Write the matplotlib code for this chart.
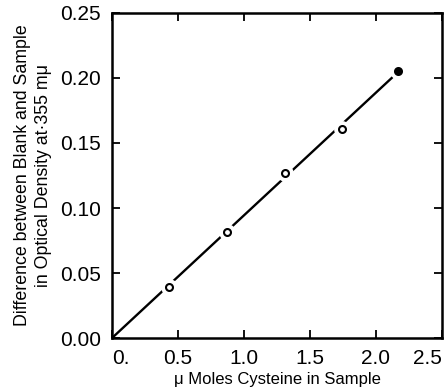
import matplotlib
matplotlib.use("Agg")
import matplotlib.pyplot as plt
import numpy as np

# readings
cysteine = [0.432, 0.869, 1.308, 1.740, 2.164]
od_diff = [0.0395, 0.0818, 0.1267, 0.1608, 0.2054]
filled = [False, False, False, False, True]

x_ticks = [0, 0.5, 1.0, 1.5, 2.0, 2.5]
x_labels = ["0.", "0.5", "1.0", "1.5", "2.0", "2.5"]
y_ticks = [0, 0.05, 0.10, 0.15, 0.20, 0.25]
y_labels = ["0.00", "0.05", "0.10", "0.15", "0.20", "0.25"]

plt.rcParams["font.family"] = ["Liberation Sans", "DejaVu Sans"]

fig = plt.figure(figsize=(4.47, 3.9), dpi=100)
ax = fig.add_axes([0.2506, 0.1333, 0.7382, 0.8334])

x = np.array(cysteine)
y = np.array(od_diff)
slope = (x * y).sum() / (x * x).sum()
xl = np.array([0, x[-1]])
ax.plot(xl, slope * xl, color="black", lw=1.7, solid_capstyle="butt", zorder=2)

# white halo so the line breaks around each point
ax.plot(x, y, "o", ms=11, mfc="white", mec="white", zorder=3)
for xi, yi, f in zip(x, y, filled):
    ax.plot(xi, yi, "o", ms=5, mfc="black" if f else "white",
            mec="black", mew=1.5, zorder=4)

ax.set_xlim(0, 2.5)
ax.set_ylim(0, 0.25)
ax.set_xticks(x_ticks)
ax.set_xticklabels(x_labels)
ax.set_yticks(y_ticks)
ax.set_yticklabels(y_labels)
ax.tick_params(direction="in", length=6, width=1.3, top=True, right=True,
               labelsize=15)
ax.tick_params(axis="x", pad=8)
ax.tick_params(axis="y", pad=8)
xt = ax.get_xticklabels()
xt[0].set_ha("left")
xt[-1].set_ha("right")
for s in ax.spines.values():
    s.set_linewidth(1.8)

ax.set_xlabel("\u03bc Moles Cysteine in Sample", fontsize=12, labelpad=3)
ax.set_ylabel("Difference between Blank and Sample\nin Optical Density at\u00b7355 m\u03bc",
              fontsize=12.8, labelpad=6, linespacing=1.25)

fig.savefig("out.png", dpi=100)
